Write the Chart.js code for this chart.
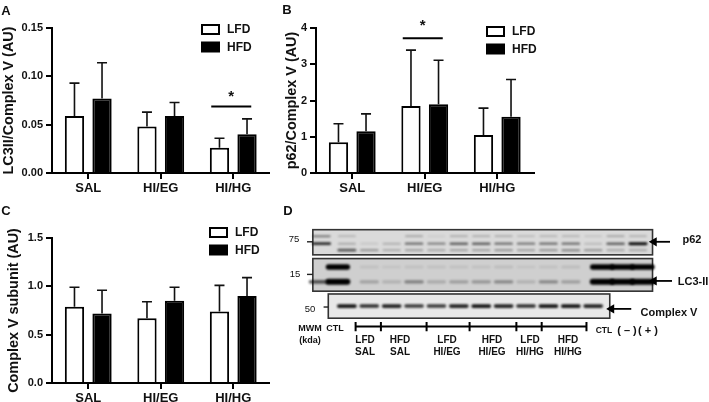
<!DOCTYPE html>
<html>
<head>
<meta charset="utf-8">
<title>LC3II, p62, Complex V</title>
<script src="https://cdn.jsdelivr.net/npm/chart.js@4"></script>
<style>
html,body{margin:0;padding:0;background:#fff;width:709px;height:402px;overflow:hidden}
canvas{position:absolute}
.smooth{filter:blur(.3px)}
#chartD{filter:blur(.3px)}
.t{position:absolute;font-family:"Liberation Sans",Arial,sans-serif;font-weight:bold;color:#111;white-space:nowrap;line-height:1;transform:translate(-50%,-50%)}
</style>
</head>
<body>
<canvas id="chartA" class="smooth"></canvas>
<canvas id="chartB" class="smooth"></canvas>
<canvas id="chartC" class="smooth"></canvas>
<canvas id="chartD"></canvas>
<div id="texts"></div>
<script>
var FONT = '"Liberation Sans", Arial, sans-serif';
var categories = ['SAL', 'HI/EG', 'HI/HG'];

// panel A
var lc3Lfd = [0.059, 0.048, 0.026];
var lc3Hfd = [0.077, 0.059, 0.040];
var lc3LfdErr = [0.093, 0.063, 0.036];
var lc3HfdErr = [0.114, 0.073, 0.056];
// panel B
var p62Lfd = [0.85, 1.85, 1.05];
var p62Hfd = [1.15, 1.90, 1.55];
var p62LfdErr = [1.36, 3.39, 1.79];
var p62HfdErr = [1.63, 3.11, 2.58];
// panel C
var cvLfd = [0.79, 0.67, 0.74];
var cvHfd = [0.72, 0.85, 0.90];
var cvLfdErr = [0.99, 0.84, 1.01];
var cvHfdErr = [0.96, 0.99, 1.09];

// panel D, band darkness per lane (0 = MWM, 1 = CTL, 2..11 samples, 12..14 controls)
var p62Top = [0.45, 0.18, 0, 0, 0.25, 0.08, 0.22, 0.22, 0.22, 0.15, 0.18, 0.18, 0.12, 0.25, 0.2];
var p62Mid = [0.8, 0.22, 0.1, 0.2, 0.5, 0.4, 0.55, 0.55, 0.5, 0.45, 0.5, 0.5, 0.15, 0.55, 0.95];
var p62Low = [0, 0.6, 0.3, 0.2, 0.25, 0.22, 0.25, 0.25, 0.3, 0.25, 0.3, 0.35, 0.3, 0.22, 0.22];
var lc3Top = [0, 1, 0.08, 0.06, 0.08, 0.08, 0.08, 0.08, 0.1, 0.06, 0.08, 0.1, 1, 1, 1];
var lc3Low = [0.6, 1, 0.22, 0.14, 0.38, 0.18, 0.24, 0.28, 0.34, 0.14, 0.34, 0.24, 1, 1, 1];
var cvBand = [0, 0.9, 0.8, 0.85, 0.75, 0.75, 0.85, 0.9, 0.85, 0.8, 0.9, 0.9, 0.85, 0, 0];
// LC3 blot ran slightly off the other two
var lc3Lanes = [-0.26, 0.6, 2, 3, 4, 5, 6, 7, 8, 9, 10, 11, 12.4, 13.3, 14.2];
var lanes = [-0.13, 1, 2, 3, 4, 5, 6, 7, 8, 9, 10, 11, 12, 13, 14];
var bracketStops = [1.39, 2.52, 4.56, 6.48, 8.57, 9.7, 11.7];

function barPanel(id, box, c) {
    var el = document.getElementById(id);
    el.style.left = box.x + 'px';
    el.style.top = box.y + 'px';
    el.width = box.w;
    el.height = box.h;
    var errs = [c.errLfd, c.errHfd];
    var extras = {
        id: 'extras',
        afterDatasetsDraw: function (chart) {
            var g = chart.ctx, y = chart.scales.y, x = chart.scales.x;
            g.save();
            g.strokeStyle = '#111';
            g.lineWidth = 1.6;
            errs.forEach(function (err, d) {
                chart.getDatasetMeta(d).data.forEach(function (bar, i) {
                    var top = y.getPixelForValue(err[i]);
                    g.beginPath();
                    g.moveTo(bar.x, bar.y);
                    g.lineTo(bar.x, top);
                    g.moveTo(bar.x - 5, top);
                    g.lineTo(bar.x + 5, top);
                    g.stroke();
                });
            });
            // legend
            g.textBaseline = 'middle';
            g.font = 'bold 12px ' + FONT;
            chart.data.datasets.forEach(function (ds, d) {
                var ly = c.legendY + d * 17.5;
                g.fillStyle = ds.backgroundColor;
                g.strokeStyle = '#000';
                g.lineWidth = 2;
                g.fillRect(c.legendX, ly, 17, 9);
                g.strokeRect(c.legendX, ly, 17, 9);
                g.fillStyle = '#111';
                g.fillText(ds.label, c.legendX + 25, ly + 5);
            });
            // significance bar
            if (c.sig) {
                var cx = x.getPixelForValue(c.sig.cat) - 2;
                var sy = y.getPixelForValue(c.sig.value);
                g.strokeStyle = '#000';
                g.lineWidth = 2;
                g.beginPath();
                g.moveTo(cx - 20, sy);
                g.lineTo(cx + 20, sy);
                g.stroke();
                g.fillStyle = '#111';
                g.textAlign = 'center';
                g.font = 'bold 15px ' + FONT;
                g.fillText('*', cx, sy - c.sig.gap);
            }
            g.restore();
        }
    };
    return new Chart(el.getContext('2d'), {
        type: 'bar',
        data: {
            labels: categories,
            datasets: [
                {label: 'LFD', data: c.lfd, backgroundColor: '#ffffff', borderColor: '#000', borderWidth: 2},
                {label: 'HFD', data: c.hfd, backgroundColor: '#000000', borderColor: '#000', borderWidth: 2}
            ]
        },
        options: {
            responsive: false,
            animation: false,
            categoryPercentage: 0.76,
            barPercentage: 0.7,
            layout: {padding: {top: c.top, right: c.right}},
            plugins: {legend: {display: false}, tooltip: {enabled: false}},
            scales: {
                x: {
                    afterFit: function (s) { s.height = box.h - c.bottom; },
                    border: {color: '#000', width: 2},
                    grid: {offset: false, drawOnChartArea: false, color: '#000', lineWidth: 2, tickLength: 6},
                    ticks: {color: '#111', padding: 2, font: {family: FONT, weight: 'bold', size: 13}}
                },
                y: {
                    min: 0,
                    max: c.max,
                    afterFit: function (s) { s.width = c.axisX; },
                    border: {color: '#000', width: 2},
                    grid: {drawOnChartArea: false, color: '#000', lineWidth: 2, tickLength: 6},
                    title: {display: true, text: c.title, color: '#111', padding: 0, font: {family: FONT, weight: 'bold', size: 14.4}},
                    ticks: {
                        stepSize: c.step,
                        color: '#111',
                        padding: 3,
                        font: {family: FONT, weight: 'bold', size: 11},
                        callback: function (v) { return v.toFixed(c.digits); }
                    }
                }
            }
        },
        plugins: [extras]
    });
}

barPanel('chartA', {x: 0, y: 0, w: 270, h: 200}, {
    lfd: lc3Lfd, hfd: lc3Hfd, errLfd: lc3LfdErr, errHfd: lc3HfdErr,
    title: 'LC3II/Complex V (AU)', max: 0.15, step: 0.05, digits: 2,
    top: 28, bottom: 173, right: 0.5, axisX: 52, legendX: 202, legendY: 25,
    sig: {cat: 2, value: 0.0688, gap: 10}
});
barPanel('chartB', {x: 283, y: 0, w: 271, h: 200}, {
    lfd: p62Lfd, hfd: p62Hfd, errLfd: p62LfdErr, errHfd: p62HfdErr,
    title: 'p62/Complex V (AU)', max: 4, step: 1, digits: 0,
    top: 28, bottom: 173, right: 20.5, axisX: 33, legendX: 204, legendY: 27,
    sig: {cat: 1, value: 3.72, gap: 12}
});
barPanel('chartC', {x: 5, y: 200, w: 265, h: 202}, {
    lfd: cvLfd, hfd: cvHfd, errLfd: cvLfdErr, errHfd: cvHfdErr,
    title: 'Complex V subunit (AU)', max: 1.5, step: 0.5, digits: 1,
    top: 38, bottom: 183, right: 0.5, axisX: 47, legendX: 205, legendY: 28
});

// blots
var blotPanels = [
    {x0: -0.52, x1: 14.65, y0: 31, y1: 58, shade: '#dadada'},
    {x0: -0.52, x1: 14.65, y0: 62, y1: 97, shade: '#cfcfcf'},
    {x0: 0.17, x1: 12.74, y0: 100, y1: 126, shade: '#e8e8e8'}
];
var bandRows = [
    {values: p62Top, at: lanes, y: 38, thick: 1.5},
    {values: p62Mid, at: lanes, y: 46, thick: 1.8},
    {values: p62Low, at: lanes, y: 53, thick: 2},
    {values: lc3Top, at: lc3Lanes, y: 71, thick: 2.5},
    {values: lc3Low, at: lc3Lanes, y: 87, thick: 3},
    {values: cvBand, at: lanes, y: 113, thick: 2.6}
];
var dSets = [];
function seg(x0, y0, x1, y1, color, width, opts) {
    var s = {data: [{x: x0, y: y0}, {x: x1, y: y1}], borderColor: color, borderWidth: width, showLine: true, pointRadius: 0, clip: false};
    for (var k in opts) s[k] = opts[k];
    dSets.push(s);
}
bandRows.forEach(function (row) {
    row.values.forEach(function (v, i) {
        if (!v) return;
        var half = v >= 1 ? 0.42 : 0.36;
        var w = row.thick + (v >= 1 ? 3 : v * 1.2);
        seg(row.at[i] - half, row.y, row.at[i] + half, row.y, 'rgba(0,0,0,' + v + ')', w, {borderCapStyle: 'round', soft: true});
    });
});
// marker ticks
seg(-0.78, 44, -0.52, 44, '#222', 1.4);
seg(-0.78, 79, -0.52, 79, '#222', 1.4);
seg(-0.04, 114, 0.17, 114, '#222', 1.4);
// sample brackets
seg(bracketStops[0], 135, bracketStops[bracketStops.length - 1], 135, '#000', 2);
bracketStops.forEach(function (b) { seg(b, 130, b, 140, '#000', 2); });
// arrows
[[15.43, 44, 14.72], [15.52, 86, 14.72], [13.7, 116, 12.82]].forEach(function (a) {
    dSets.push({
        data: [{x: a[0], y: a[1]}, {x: a[2], y: a[1]}],
        borderColor: '#000', backgroundColor: '#000', borderWidth: 1.8, showLine: true, clip: false,
        pointStyle: 'triangle', pointRotation: -90, pointRadius: [0, 3.5]
    });
});

var dEl = document.getElementById('chartD');
dEl.style.left = '270px';
dEl.style.top = '195px';
dEl.width = 439;
dEl.height = 170;
new Chart(dEl.getContext('2d'), {
    type: 'scatter',
    data: {datasets: dSets},
    options: {
        responsive: false,
        animation: false,
        layout: {padding: 0},
        plugins: {legend: {display: false}, tooltip: {enabled: false}},
        scales: {
            x: {display: false, min: -2.174, max: 16.913},
            y: {display: false, min: 0, max: 170, reverse: true}
        }
    },
    plugins: [{
        id: 'blotPanels',
        beforeDatasetsDraw: function (chart) {
            var g = chart.ctx, x = chart.scales.x, y = chart.scales.y;
            g.save();
            blotPanels.forEach(function (p) {
                var l = x.getPixelForValue(p.x0), r = x.getPixelForValue(p.x1);
                var t = y.getPixelForValue(p.y0), b = y.getPixelForValue(p.y1);
                g.fillStyle = p.shade;
                g.fillRect(l, t, r - l, b - t);
                g.strokeStyle = '#333';
                g.lineWidth = 1.6;
                g.strokeRect(l, t, r - l, b - t);
            });
            g.restore();
        },
        // bands go on soft, frames and brackets stay crisp
        beforeDatasetDraw: function (chart, args) {
            if (chart.data.datasets[args.index].soft) chart.ctx.filter = 'blur(0.9px)';
        },
        afterDatasetDraw: function (chart) {
            chart.ctx.filter = 'none';
        }
    }]
});

// page text: [text, centre x, centre y, size, weight]
var pageTexts = [
    ['A', 6, 10, 13], ['B', 287, 9, 13], ['C', 6, 210, 13], ['D', 288, 210, 13],
    ['75', 294, 239, 9.5, 'normal'], ['15', 295, 274, 9.5, 'normal'], ['50', 310, 309, 9.5, 'normal'],
    ['MWM', 310, 328, 9], ['(kda)', 310, 340, 9], ['CTL', 335, 328, 9],
    ['LFD', 365, 340, 10], ['SAL', 365, 352, 10],
    ['HFD', 400, 340, 10], ['SAL', 400, 352, 10],
    ['LFD', 447, 340, 10], ['HI/EG', 447, 352, 10],
    ['HFD', 492, 340, 10], ['HI/EG', 492, 352, 10],
    ['LFD', 530, 340, 10], ['HI/HG', 530, 352, 10],
    ['HFD', 568, 340, 10], ['HI/HG', 568, 352, 10],
    ['CTL', 604, 330, 8.5], ['( – )', 627, 330, 11], ['( + )', 648, 330, 11],
    ['p62', 692, 239, 11], ['LC3-II', 693, 281, 11], ['Complex V', 669, 312, 11]
];
var holder = document.getElementById('texts');
pageTexts.forEach(function (t) {
    var d = document.createElement('div');
    d.className = 't';
    d.textContent = t[0];
    d.style.left = t[1] + 'px';
    d.style.top = t[2] + 'px';
    d.style.fontSize = t[3] + 'px';
    if (t[4]) d.style.fontWeight = t[4];
    holder.appendChild(d);
});
</script>
</body>
</html>
